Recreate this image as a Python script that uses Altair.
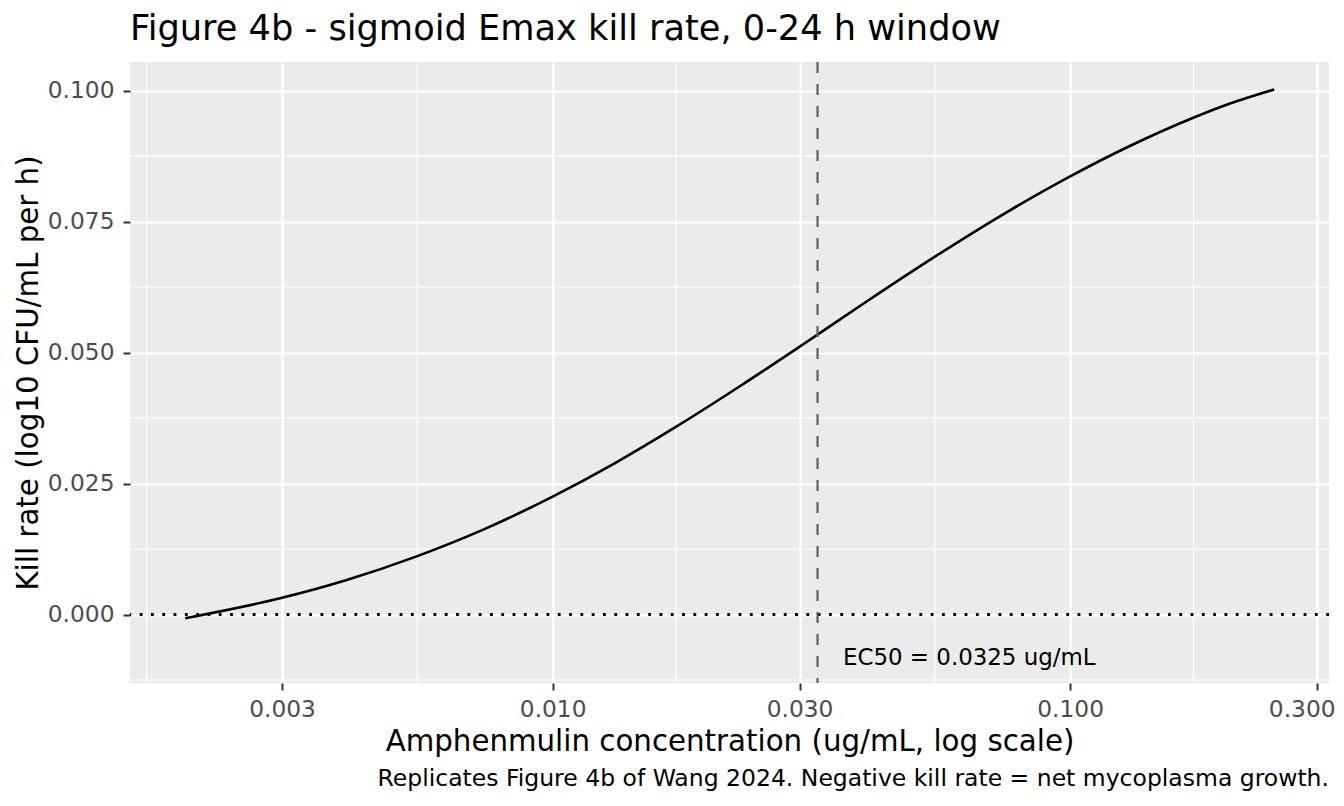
import altair as alt
import pandas as pd

# ---- data ----
conc = [0.00195, 0.003, 0.0040, 0.00546, 0.00738, 0.010, 0.0132, 0.0173, 0.0232,
        0.030, 0.0325, 0.0401, 0.0548, 0.0758, 0.100, 0.131, 0.173, 0.205, 0.248]
kill = [-0.0007, 0.0032, 0.0066, 0.0111, 0.0163, 0.0225, 0.0289, 0.0358, 0.0438,
        0.0511, 0.0534, 0.0595, 0.0683, 0.0769, 0.0836, 0.0895, 0.0948, 0.0976, 0.1002]

x_ticks = [0.003, 0.01, 0.03, 0.1, 0.3]
y_ticks = [0.0, 0.025, 0.05, 0.075, 0.1]
x_minor = [0.001643, 0.005477, 0.01732, 0.05477, 0.1732]
y_minor = [-0.0125, 0.0125, 0.0375, 0.0625, 0.0875]
x_domain = [0.001525, 0.3164]
y_domain = [-0.01307, 0.10544]

ec50 = [0.0325]
zero_line = [0.0]
label_x = [0.0364]
label_y = [-0.0083]
label_text = ["EC50 = 0.0325 ug/mL"]

title_text = "Figure 4b - sigmoid Emax kill rate, 0-24 h window"
x_title = "Amphenmulin concentration (ug/mL, log scale)"
y_title = "Kill rate (log10 CFU/mL per h)"
caption_text = ["Replicates Figure 4b of Wang 2024. Negative kill rate = net mycoplasma growth."]

FONT = "DejaVu Sans"

xscale = alt.Scale(type="log", domain=x_domain, nice=False)
yscale = alt.Scale(domain=y_domain, nice=False, zero=False)

xaxis = alt.Axis(values=x_ticks, format=".3f", title=x_title, labelPadding=8,
                 titleY=67, titleBaseline="alphabetic", labelFlush=15,
                 labelFlushOffset=18, labelOverlap=False)
yaxis = alt.Axis(values=y_ticks, format=".3f", title=y_title, labelPadding=9,
                 titleX=-93, titleY=310.5, titleAngle=270, titleAlign="center",
                 titleBaseline="alphabetic", labelOverlap=False)


def X(field):
    return alt.X(f"{field}:Q", scale=xscale, axis=xaxis)


def Y(field):
    return alt.Y(f"{field}:Q", scale=yscale, axis=yaxis)


curve_df = pd.DataFrame({"conc": conc, "kill": kill})

minor_x = alt.Chart(pd.DataFrame({"conc": x_minor})).mark_rule(
    color="white", strokeWidth=1.1).encode(x=X("conc"))
minor_y = alt.Chart(pd.DataFrame({"kill": y_minor})).mark_rule(
    color="white", strokeWidth=1.1).encode(y=Y("kill"))

hline = alt.Chart(pd.DataFrame({"kill": zero_line})).mark_rule(
    color="black", strokeWidth=2.8, strokeDash=[2.8, 8.5]).encode(y=Y("kill"))

vline = alt.Chart(pd.DataFrame({"conc": ec50})).mark_rule(
    color="#606060", strokeWidth=2.2, strokeDash=[11, 11]).encode(x=X("conc"))

curve = alt.Chart(curve_df).mark_line(
    color="black", strokeWidth=2.6, interpolate="monotone").encode(
    x=X("conc"), y=Y("kill"))

label = alt.Chart(pd.DataFrame({"conc": label_x, "kill": label_y, "t": label_text})).mark_text(
    align="left", baseline="middle", fontSize=22.9, font=FONT, color="black").encode(
    x=X("conc"), y=Y("kill"), text="t:N")

caption = alt.Chart(pd.DataFrame({"t": caption_text})).mark_text(
    align="right", baseline="alphabetic", fontSize=23.5, font=FONT, color="black").encode(
    x=alt.value(1199), y=alt.value(724), text="t:N")

chart = alt.layer(minor_x, minor_y, curve, hline, vline, label, caption).properties(
    width=1199,
    height=621,
    background="white",
    autosize=alt.AutoSizeParams(type="none"),
    padding={"left": 122, "top": 54, "right": 7, "bottom": 110},
    title=alt.TitleParams(title_text, anchor="start", frame="group", fontSize=35.2,
                          font=FONT, fontWeight="normal", color="black",
                          offset=22, dy=36, baseline="alphabetic"),
).configure_view(
    fill="#EBEBEB", strokeWidth=0
).configure_axis(
    domain=False, grid=True, gridColor="white", gridWidth=2.2,
    tickColor="#333333", tickWidth=2, tickSize=7,
    labelColor="#4D4D4D", labelFont=FONT, labelFontSize=23.3,
    titleFont=FONT, titleFontSize=29.3, titleColor="black", titleFontWeight="normal"
)

chart.save("out.html", embed_options={"renderer": "svg", "actions": False})
